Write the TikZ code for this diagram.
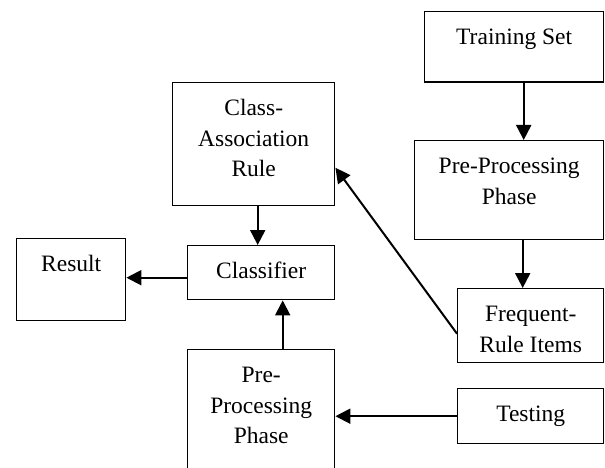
\documentclass[tikz,border=0pt]{standalone}
\usepackage{fontspec}
\setmainfont{Liberation Serif}
\usetikzlibrary{arrows.meta,calc}
\tikzset{
  box/.style={draw, line width=1.4pt, anchor=north west, inner sep=0pt},
  lbl/.style={anchor=north, inner sep=0pt, align=center, font=\fontsize{23.5}{30.5}\selectfont},
  arr/.style={line width=2pt, -{Triangle[length=15pt,width=15pt]}}
}
\begin{document}
\begin{tikzpicture}[x=1pt,y=-1pt]
\clip (0,0) rectangle (605,468);
\fill[white] (0,0) rectangle (605,468);
% boxes
\node[box, minimum width=179pt, minimum height=70.5pt] (ts) at (424,11) {};
\node[box, minimum width=189pt, minimum height=99pt] (pp1) at (414,140) {};
\node[box, minimum width=146pt, minimum height=74pt] (fr) at (457,288) {};
\node[box, minimum width=162pt, minimum height=123pt] (car) at (172,82) {};
\node[box, minimum width=147pt, minimum height=54pt] (cl) at (187,245) {};
\node[box, minimum width=109pt, minimum height=82pt] (res) at (16,238) {};
\node[box, minimum width=147pt, minimum height=126pt] (pp2) at (187,349) {};
\node[box, minimum width=146pt, minimum height=55pt] (test) at (457,388) {};
% labels
\node[lbl] (tsT) at ([yshift=-12pt]ts.north) {\strut Training Set};
\node[lbl] (pp1T) at ([yshift=-12pt]pp1.north) {\strut Pre-Processing\\Phase};
\node[lbl] (frT) at ([yshift=-12pt]fr.north) {\strut Frequent-\\Rule Items};
\node[lbl] (carT) at ([yshift=-12pt]car.north) {\strut Class-\\Association\\Rule};
\node[lbl] (clT) at ([yshift=-12pt]cl.north) {\strut Classifier};
\node[lbl] (resT) at ([yshift=-12pt]res.north) {\strut Result};
\node[lbl] (pp2T) at ([yshift=-12pt]pp2.north) {\strut Pre-\\Processing\\Phase};
\node[lbl] (testT) at ([yshift=-12pt]test.north) {\strut Testing};
% connectors
\draw[arr] ([xshift=9.5pt]ts.south) -- ([xshift=9.5pt]ts.south |- pp1.north);
\draw[arr] ([xshift=13.5pt]pp1.south) -- ([xshift=13.5pt]pp1.south |- fr.north);
\draw[arr] ([yshift=-8pt]fr.west) -- ([yshift=-23.5pt]car.east);
\draw[arr] ([xshift=4pt]car.south) -- ([xshift=4pt]car.south |- cl.north);
\draw[arr] ([yshift=-5pt]cl.west) -- ([yshift=-5pt]cl.west -| res.east);
\draw[arr] ([xshift=21.5pt]pp2.north) -- ([xshift=21.5pt]pp2.north |- cl.south);
\draw[arr] (test.west) -- (test.west -| pp2.east);
\end{tikzpicture}
\end{document}
